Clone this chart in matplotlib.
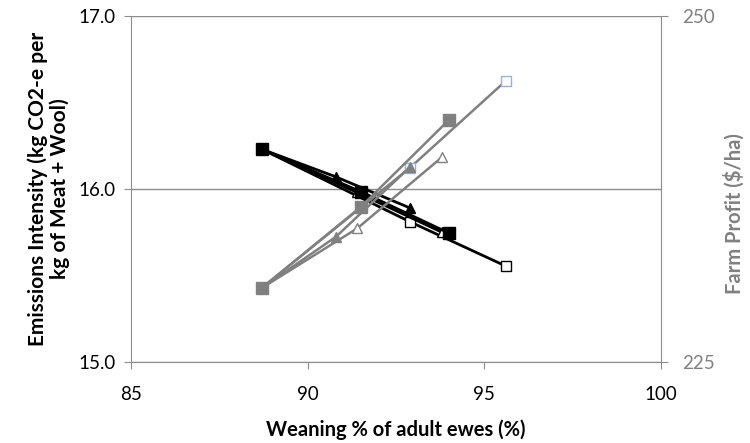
import matplotlib
matplotlib.use("Agg")
import matplotlib.pyplot as plt

plt.rcParams['font.family'] = ['Lato', 'DejaVu Sans']

# Weaning % of adult ewes for each scenario
wean_sq_filled = [88.7, 91.5, 94.0]
wean_tri_filled = [88.7, 90.8, 92.9]
wean_tri_open = [88.7, 91.4, 93.8]
wean_sq_open = [88.7, 92.9, 95.6]

# Emissions intensity (kg CO2-e per kg of meat + wool)
ei_sq_filled = [16.23, 15.985, 15.745]
ei_tri_filled = [16.23, 16.07, 15.89]
ei_tri_open = [16.23, 15.98, 15.75]
ei_sq_open = [16.23, 15.81, 15.555]

# Farm profit ($/ha)
fp_sq_filled = [230.35, 236.2, 242.5]
fp_tri_filled = [230.35, 234.05, 239.1]
fp_tri_open = [230.35, 234.65, 239.8]
fp_sq_open = [230.35, 239.05, 245.3]

x_ticks = [85, 90, 95, 100]
ei_ticks = [15.0, 16.0, 17.0]
fp_ticks = [225, 250]

GREY = '#808080'
AXIS_GREY = '#8c8c8c'
LIGHT_BLUE = '#95b3d7'

fig = plt.figure(figsize=(7.5, 4.43), dpi=100)
ax = fig.add_axes([0.1747, 0.1828, 0.7067, 0.7811])

# Emissions intensity series (left axis)
ax.plot(wean_sq_open, ei_sq_open, color='black', lw=2.0, marker='s', ms=7.5,
        mfc='white', mec='black', mew=1.0, zorder=3)
ax.plot(wean_tri_open, ei_tri_open, color='black', lw=2.0, marker='^', ms=7,
        mfc='white', mec='black', mew=1.0, zorder=3)
ax.plot(wean_tri_filled, ei_tri_filled, color='black', lw=2.0, marker='^', ms=7,
        mfc='black', mec='black', zorder=3)
ax.plot(wean_sq_filled, ei_sq_filled, color='black', lw=2.0, marker='s', ms=8,
        mfc='black', mec='black', zorder=3)

ax.set_xlim(85, 100)
ax.set_ylim(15, 17)
ax.set_xticks(x_ticks)
ax.set_yticks(ei_ticks)
ax.set_yticklabels([f"{v:.1f}" for v in ei_ticks])
ax.grid(axis='y', color=AXIS_GREY, lw=1.0)
ax.set_axisbelow(True)
for side in ['left', 'bottom']:
    ax.spines[side].set_color(AXIS_GREY)
for side in ['top', 'right']:
    ax.spines[side].set_visible(False)
ax.tick_params(axis='both', direction='out', length=5, color=AXIS_GREY,
               labelsize=13.5, labelcolor='black')
ax.tick_params(axis='y', pad=6)
ax.tick_params(axis='x', pad=12)
ax.set_xlabel('Weaning % of adult ewes (%)', fontsize=14.5, fontweight='bold',
              labelpad=12)
ax.set_ylabel('Emissions Intensity (kg CO2-e per\nkg of Meat + Wool)',
              fontsize=15, fontweight='bold', labelpad=6, linespacing=1.1)

# Farm profit series (right axis)
ax2 = ax.twinx()
ax2.plot(wean_sq_open, fp_sq_open, color=GREY, lw=1.8, marker='s', ms=7.5,
         mfc='white', mec=LIGHT_BLUE, mew=1.0, zorder=3)
ax2.plot(wean_tri_open, fp_tri_open, color=GREY, lw=1.8, marker='^', ms=7,
         mfc='white', mec=GREY, mew=1.0, zorder=3)
ax2.plot(wean_tri_filled, fp_tri_filled, color=GREY, lw=1.8, marker='^', ms=7,
         mfc=GREY, mec=GREY, zorder=3)
ax2.plot(wean_sq_filled, fp_sq_filled, color=GREY, lw=1.8, marker='s', ms=8,
         mfc=GREY, mec=GREY, zorder=3)
ax2.set_ylim(225, 250)
ax2.set_yticks(fp_ticks)
for side in ['left', 'bottom', 'top']:
    ax2.spines[side].set_visible(False)
ax2.spines['right'].set_color(AXIS_GREY)
ax2.tick_params(axis='y', direction='out', length=5, color=AXIS_GREY,
                labelsize=13.5, labelcolor=GREY, pad=10)
ax2.set_ylabel('Farm Profit ($/ha)', fontsize=14.5, fontweight='bold',
               color=GREY, labelpad=14)
ax2.yaxis.set_label_coords(1.117, 0.43)

fig.savefig('out.png', dpi=100)
